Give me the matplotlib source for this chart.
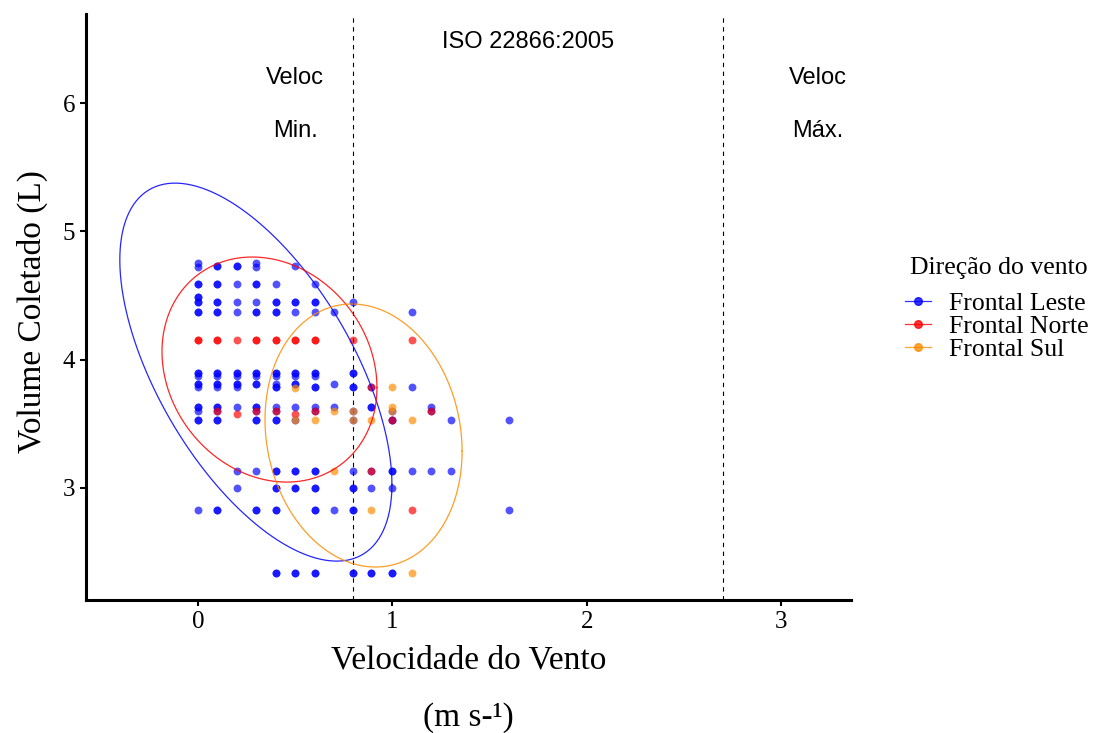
import numpy as np
import matplotlib
matplotlib.use("Agg")
import matplotlib.pyplot as plt
from matplotlib.lines import Line2D

# ---------------- data ----------------
groups = ["Frontal Leste", "Frontal Norte", "Frontal Sul"]
colors = ["#0000FF", "#FF0000", "#FF8C00"]

leste_x = [0, 0, 0.1, 0.1, 0.2, 0.2, 0.3, 0.3, 0.5,
           0, 0, 0.1, 0.1, 0.2, 0.3, 0.3, 0.4, 0.6,
           0, 0,
           0, 0, 0.1, 0.1, 0.2, 0.3, 0.4, 0.4, 0.5, 0.5, 0.6, 0.6, 0.8,
           0, 0, 0.1, 0.1, 0.2, 0.3, 0.3, 0.4, 0.4, 0.5, 0.6, 0.7, 1.1,
           0, 0, 0.1, 0.1, 0.2, 0.2, 0.3, 0.3, 0.4, 0.4, 0.5, 0.5, 0.6, 0.6, 0.8, 0.8,
           0, 0.1, 0.2, 0.3, 0.4, 0.5, 0.6,
           0, 0, 0.1, 0.1, 0.2, 0.2, 0.3, 0.3, 0.4, 0.5, 0.5, 0.7,
           0, 0.1, 0.2, 0.4, 0.4, 0.6, 0.6, 0.8, 0.8, 0.89, 1.1,
           0, 0, 0.1, 0.1, 0.2, 0.3, 0.3, 0.4, 0.5, 0.6, 0.7, 0.89, 0.89, 1.2,
           0, 0.1, 0.3, 0.4, 0.6, 0.8, 1.0, 1.2,
           0, 0, 0.1, 0.1, 0.3, 0.3, 0.4, 0.4, 0.5, 0.8, 1.0, 1.0, 1.3, 1.6,
           0.2, 0.3, 0.4, 0.4, 0.5, 0.5, 0.6, 0.6, 0.8, 0.89, 1.0, 1.0, 1.1, 1.2, 1.3,
           0.2, 0.4, 0.4, 0.5, 0.5, 0.6, 0.6, 0.8, 0.8, 0.89, 1.0,
           0, 0.1, 0.1, 0.3, 0.3, 0.4, 0.4, 0.6, 0.6, 0.7, 0.8, 0.8, 1.6,
           0.4, 0.4, 0.5, 0.5, 0.6, 0.6, 0.8, 0.8, 0.89, 0.89, 1.0, 1.0]
leste_y = [4.75, 4.72, 4.73, 4.73, 4.73, 4.73, 4.75, 4.72, 4.73,
           4.59, 4.59, 4.59, 4.59, 4.59, 4.59, 4.59, 4.59, 4.59,
           4.49, 4.49,
           4.45, 4.45, 4.45, 4.45, 4.45, 4.45, 4.45, 4.45, 4.45, 4.45, 4.45, 4.45, 4.45,
           4.37, 4.37, 4.37, 4.37, 4.37, 4.37, 4.37, 4.37, 4.37, 4.37, 4.37, 4.37, 4.37,
           3.90, 3.90, 3.90, 3.90, 3.90, 3.90, 3.90, 3.90, 3.90, 3.90, 3.90, 3.90, 3.90, 3.90, 3.90, 3.90,
           3.87, 3.87, 3.87, 3.87, 3.87, 3.87, 3.87,
           3.81, 3.81, 3.81, 3.81, 3.81, 3.81, 3.81, 3.81, 3.81, 3.81, 3.81, 3.81,
           3.79, 3.79, 3.79, 3.79, 3.79, 3.79, 3.79, 3.79, 3.79, 3.79, 3.79,
           3.63, 3.63, 3.63, 3.63, 3.63, 3.63, 3.63, 3.63, 3.63, 3.63, 3.63, 3.63, 3.63, 3.63,
           3.60, 3.60, 3.60, 3.60, 3.60, 3.60, 3.60, 3.60,
           3.53, 3.53, 3.53, 3.53, 3.53, 3.53, 3.53, 3.53, 3.53, 3.53, 3.53, 3.53, 3.53, 3.53,
           3.13, 3.13, 3.13, 3.13, 3.13, 3.13, 3.13, 3.13, 3.13, 3.13, 3.13, 3.13, 3.13, 3.13, 3.13,
           3.00, 3.00, 3.00, 3.00, 3.00, 3.00, 3.00, 3.00, 3.00, 3.00, 3.00,
           2.83, 2.83, 2.83, 2.83, 2.83, 2.83, 2.83, 2.83, 2.83, 2.83, 2.83, 2.83, 2.83,
           2.34, 2.34, 2.34, 2.34, 2.34, 2.34, 2.34, 2.34, 2.34, 2.34, 2.34, 2.34]

norte_x = [0, 0, 0.1, 0.1, 0.2, 0.3, 0.3, 0.4, 0.4, 0.5, 0.5, 0.6, 0.6, 0.8, 1.1,
           0.1, 0.3, 0.4, 0.6, 1.2, 0.2, 0.5, 0.89, 0.89, 1.0, 1.1]
norte_y = [4.15, 4.15, 4.15, 4.15, 4.15, 4.15, 4.15, 4.15, 4.15, 4.15, 4.15, 4.15, 4.15, 4.15, 4.15,
           3.60, 3.60, 3.60, 3.60, 3.60, 3.58, 3.58, 3.79, 3.13, 3.53, 2.83]

sul_x = [0.5, 0.5, 0.6, 0.7, 0.8, 0.8, 0.89, 1.0, 1.0, 1.0, 1.1, 0.7, 0.89, 1.1]
sul_y = [3.78, 3.53, 3.53, 3.60, 3.60, 3.53, 3.53, 3.79, 3.63, 3.60, 3.53, 3.13, 2.83, 2.34]

# 95% ellipses: centre, half-extent in x and y, correlation
ell_cx = [0.298, 0.368, 0.852]
ell_cy = [3.903, 3.923, 3.409]
ell_ax = [0.700, 0.553, 0.507]
ell_ay = [1.473, 0.877, 1.025]
ell_rho = [-0.594, -0.16, -0.12]

vlines_x = [0.8, 2.7]
xticks = [0, 1, 2, 3]
yticks = [3, 4, 5, 6]

# ---------------- figure ----------------
fig = plt.figure(figsize=(11.02, 7.33), dpi=100)
ax = fig.add_axes([86 / 1102, 1 - 600 / 733, (851 - 86) / 1102, (600 - 14) / 733])
ax.set_xlim(-0.576, 3.36)
ax.set_ylim(2.127, 6.694)

serif = ["Liberation Serif", "DejaVu Serif"]
sans = ["Liberation Sans", "DejaVu Sans"]

data = [(leste_x, leste_y), (norte_x, norte_y), (sul_x, sul_y)]
for (xs, ys), c in zip(data, colors):
    ax.scatter(xs, ys, s=32, color=c, alpha=0.68, linewidths=0, zorder=3)

t = np.linspace(0, 2 * np.pi, 300)
for cx, cy, a, b, r, c in zip(ell_cx, ell_cy, ell_ax, ell_ay, ell_rho, colors):
    ex = cx + a * np.cos(t)
    ey = cy + b * (r * np.cos(t) + np.sqrt(1 - r * r) * np.sin(t))
    ax.plot(ex, ey, color=c, lw=0.9, alpha=0.85, zorder=4)

for vx in vlines_x:
    ax.axvline(vx, color="black", lw=0.8, ls=(0, (4, 4)), zorder=2)

ann_size = 17
ax.text(0.5, 6.195, "Veloc", ha="center", va="center", fontsize=ann_size, family=sans)
ax.text(0.5, 5.78, "Min.", ha="center", va="center", fontsize=ann_size, family=sans)
ax.text(3.19, 6.195, "Veloc", ha="center", va="center", fontsize=ann_size, family=sans)
ax.text(3.19, 5.78, "Máx.", ha="center", va="center", fontsize=ann_size, family=sans)
ax.text(1.698, 6.475, "ISO 22866:2005", ha="center", va="center", fontsize=ann_size, family=sans)

for side in ["top", "right"]:
    ax.spines[side].set_visible(False)
for side in ["left", "bottom"]:
    ax.spines[side].set_linewidth(2.2)
ax.set_xticks(xticks)
ax.set_yticks(yticks)
ax.tick_params(axis="both", length=4, width=1.5, pad=4, labelsize=18)
for lab in ax.get_xticklabels() + ax.get_yticklabels():
    lab.set_family(serif)

title_size = 24
fig.text(468.5 / 1102, 1 - 660 / 733, "Velocidade do Vento", ha="center", va="center",
         fontsize=title_size, family=serif)
fig.text(468.5 / 1102, 1 - 718 / 733, "(m s-¹)", ha="center", va="center",
         fontsize=title_size, family=serif)
fig.text(32 / 1102, 1 - 312 / 733, "Volume Coletado (L)", ha="center", va="center",
         rotation=90, fontsize=title_size, family=serif)

# legend
fig.text(910 / 1102, 1 - 268 / 733, "Direção do vento", ha="left", va="center",
         fontsize=18.5, family=serif)
handles = [Line2D([0], [0], color=c, marker="o", markersize=5.5, lw=0.9, alpha=0.8)
           for c in colors]
leg = fig.legend(handles, groups, loc="upper left", bbox_to_anchor=(905 / 1102, 1 - 292 / 733),
                 frameon=False, borderpad=0, borderaxespad=0,
                 handlelength=1.0, handletextpad=0.7, labelspacing=0.0,
                 prop={"family": serif, "size": 18.5})

fig.savefig("out.png", dpi=100)
